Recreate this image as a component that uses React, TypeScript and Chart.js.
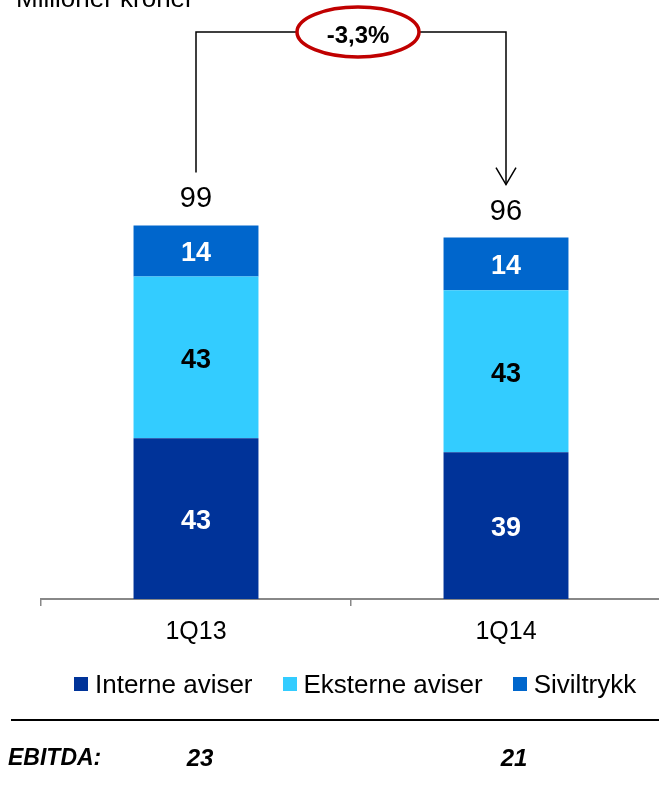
import React, { useEffect, useRef } from "react";
import { Chart, registerables } from "chart.js";

Chart.register(...registerables);

// ---- data ----
const categories = ["1Q13", "1Q14"];
const interneAviser = [42.6, 38.9];
const eksterneAviser = [42.9, 42.9];
const siviltrykk = [13.5, 14.0];
const seriesNames = ["Interne aviser", "Eksterne aviser", "Siviltrykk"];
const ebitdaValues = [23, 21];
const changeLabel = "-3,3%";
const unitLabel = "Millioner kroner";
const ebitdaLabel = "EBITDA:";

// ---- styles ----
const seriesColors = ["#003399", "#33CCFF", "#0066CC"];
const segmentLabelColors = ["#FFFFFF", "#000000", "#FFFFFF"];
const FONT = '"Liberation Sans", Arial, Helvetica, sans-serif';
const Y_MAX = 150;

const overlayPlugin = {
  id: "overlayPlugin",
  afterDatasetsDraw(chart: any) {
    const ctx = chart.ctx as CanvasRenderingContext2D;
    const metas = chart.data.datasets.map((_: any, i: number) => chart.getDatasetMeta(i));
    ctx.save();

    // segment labels
    ctx.textAlign = "center";
    ctx.textBaseline = "alphabetic";
    ctx.font = `bold 27px ${FONT}`;
    metas.forEach((meta: any, di: number) => {
      meta.data.forEach((el: any, i: number) => {
        const v = chart.data.datasets[di].data[i] as number;
        const { x, y, base } = el.getProps(["x", "y", "base"], true);
        ctx.fillStyle = segmentLabelColors[di];
        ctx.fillText(String(Math.round(v)), x, (y + base) / 2 + 10.5);
      });
    });

    // totals
    const xs: number[] = categories.map((_, i) => metas[0].data[i].x);
    const tops: number[] = categories.map((_, i) =>
      Math.min(...metas.map((m: any) => m.data[i].y))
    );
    ctx.font = `29px ${FONT}`;
    ctx.fillStyle = "#000000";
    const capTops: number[] = [];
    categories.forEach((_, i) => {
      const total =
        interneAviser[i] + eksterneAviser[i] + siviltrykk[i];
      const baseline = tops[i] - 18;
      ctx.fillText(String(Math.round(total)), xs[i], baseline);
      capTops.push(baseline - 21);
    });

    // bracket with arrow
    const by = chart.chartArea.top - 1;
    const lx = xs[0];
    const rx = xs[xs.length - 1];
    const leftEnd = capTops[0] - 14;
    const tip = capTops[capTops.length - 1] - 14;
    ctx.strokeStyle = "#000000";
    ctx.lineWidth = 1.5;
    ctx.beginPath();
    ctx.moveTo(lx, leftEnd);
    ctx.lineTo(lx, by);
    ctx.lineTo(rx, by);
    ctx.lineTo(rx, tip);
    ctx.stroke();
    ctx.beginPath();
    ctx.moveTo(rx - 10, tip - 17);
    ctx.lineTo(rx, tip);
    ctx.lineTo(rx + 10, tip - 17);
    ctx.stroke();

    // ellipse
    const cx = (lx + rx) / 2 + 7;
    ctx.beginPath();
    ctx.ellipse(cx, by, 61, 25, 0, 0, Math.PI * 2);
    ctx.fillStyle = "#FFFFFF";
    ctx.fill();
    ctx.lineWidth = 3.5;
    ctx.strokeStyle = "#C00000";
    ctx.stroke();
    ctx.fillStyle = "#000000";
    ctx.font = `bold 24px ${FONT}`;
    ctx.textAlign = "center";
    ctx.fillText(changeLabel, cx, by + 11);

    ctx.restore();
  },
};

export default function App() {
  const canvasRef = useRef<HTMLCanvasElement | null>(null);

  useEffect(() => {
    if (!canvasRef.current) return;
    const chart = new Chart(canvasRef.current, {
      type: "bar",
      data: {
        labels: categories,
        datasets: [
          { label: seriesNames[0], data: interneAviser, backgroundColor: seriesColors[0] },
          { label: seriesNames[1], data: eksterneAviser, backgroundColor: seriesColors[1] },
          { label: seriesNames[2], data: siviltrykk, backgroundColor: seriesColors[2] },
        ],
      },
      options: {
        animation: false,
        responsive: true,
        maintainAspectRatio: false,
        layout: { padding: { left: 41, right: 1, top: 33, bottom: 0 } },
        datasets: {
          bar: { categoryPercentage: 1, barPercentage: 0.403, borderWidth: 0 },
        },
        plugins: {
          legend: { display: false },
          tooltip: { enabled: false },
          title: { display: false },
        },
        scales: {
          x: {
            stacked: true,
            offset: true,
            afterFit: (scale: any) => {
              scale.height = 192;
            },
            grid: {
              display: true,
              offset: true,
              drawOnChartArea: false,
              drawTicks: true,
              tickLength: 7,
              color: "#888888",
              lineWidth: 1.5,
            },
            border: { display: true, color: "#888888", width: 2 },
            ticks: {
              color: "#000000",
              padding: 11,
              maxRotation: 0,
              autoSkip: false,
              font: { family: FONT, size: 25 },
            },
          },
          y: {
            stacked: true,
            display: false,
            min: 0,
            max: Y_MAX,
          },
        },
      },
      plugins: [overlayPlugin],
    });
    return () => chart.destroy();
  }, []);

  const legendItemStyle: React.CSSProperties = {
    display: "flex",
    alignItems: "center",
    marginRight: 30,
  };

  return (
    <div
      style={{
        position: "absolute",
        left: 0,
        top: 0,
        width: 659,
        height: 791,
        overflow: "hidden",
        background: "#FFFFFF",
        fontFamily: FONT,
        color: "#000000",
      }}
    >
      <div style={{ position: "absolute", left: 0, top: 0, width: 662, height: 791 }}>
        <canvas ref={canvasRef} />
      </div>
      <div
        style={{
          position: "absolute",
          left: 16,
          top: -15,
          fontSize: 26,
          lineHeight: "26px",
          whiteSpace: "nowrap",
        }}
      >
        {unitLabel}
      </div>
      <div
        style={{
          position: "absolute",
          left: 74,
          top: 671,
          height: 26,
          display: "flex",
          alignItems: "center",
          fontSize: 26,
          lineHeight: "26px",
          whiteSpace: "nowrap",
        }}
      >
        {seriesNames.map((name, i) => (
          <div key={name} style={legendItemStyle}>
            <span
              style={{
                display: "inline-block",
                width: 14,
                height: 14,
                background: seriesColors[i],
                marginRight: 7,
              }}
            />
            <span>{name}</span>
          </div>
        ))}
      </div>
      <div
        style={{
          position: "absolute",
          left: 11,
          top: 719,
          width: 660,
          height: 2,
          background: "#000000",
        }}
      />
      <div
        style={{
          position: "absolute",
          left: 8,
          top: 746,
          fontSize: 23,
          lineHeight: "23px",
          fontWeight: "bold",
          fontStyle: "italic",
          whiteSpace: "nowrap",
        }}
      >
        {ebitdaLabel}
      </div>
      {ebitdaValues.map((v, i) => (
        <div
          key={i}
          style={{
            position: "absolute",
            left: (i === 0 ? 200 : 514) - 50,
            width: 100,
            top: 746,
            textAlign: "center",
            fontSize: 24,
            lineHeight: "23px",
            fontWeight: "bold",
            fontStyle: "italic",
          }}
        >
          {v}
        </div>
      ))}
    </div>
  );
}
